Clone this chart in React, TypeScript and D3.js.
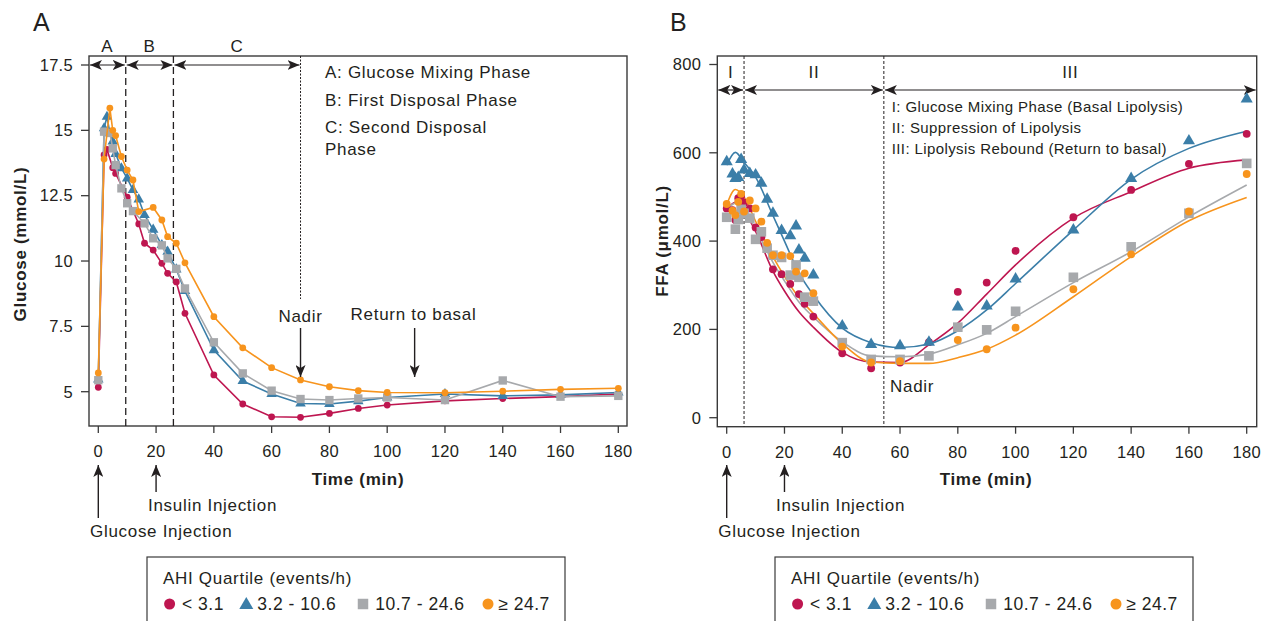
import React from 'react';
import * as d3 from 'd3';

const FONT = '"Liberation Sans", Arial, Helvetica, sans-serif';
const INK = '#231f20';
const TXT = { fontSize: 17, letterSpacing: 0.7, fill: INK };

// legend groups
const groups = ['< 3.1', '3.2 - 10.6', '10.7 - 24.6', '\u2265 24.7'];
const colors = ['#be1650', '#3b7ea8', '#a7a9ac', '#f7941d'];
const shapes = ['circle', 'triangle', 'square', 'circle'];

// Panel A: glucose (mmol/L)
const glucoseTime = [0, 2, 3, 4, 5, 6, 8, 10, 12, 14, 16, 19, 22, 24, 27, 30, 40, 50, 60, 70, 80, 90, 100, 120, 140, 160, 180];
const glucoseQ1 = [5.17, 14.06, 14.27, null, 13.57, 13.35, null, 12.44, null, 11.42, 10.68, 10.42, 9.91, 9.53, 9.2, 8.0, 5.64, 4.53, 4.04, 4.02, 4.17, 4.36, 4.49, 4.65, 4.74, 4.81, 4.91];
const glucoseQ2 = [5.47, 15.08, 15.52, 14.89, 14.57, 14.1, 13.55, 13.16, 12.72, 12.36, 11.76, 11.2, 10.61, 10.36, 9.68, 8.85, 6.59, 5.41, 4.91, 4.55, 4.53, 4.64, 4.78, 4.91, 4.84, 4.88, 4.97];
const glucoseQ3 = [5.44, 14.95, null, 14.9, 14.31, 13.67, 12.78, 12.21, 11.91, null, 11.44, 10.87, 10.6, 10.1, 9.7, 8.95, 6.89, 5.7, 5.04, 4.72, 4.68, 4.74, 4.78, 4.68, 5.43, 4.81, 4.84];
const glucoseQ4 = [5.72, 13.9, null, 15.85, 15.0, 14.8, 14.0, 13.48, 13.1, 11.89, null, 12.05, 11.57, 10.93, 10.68, 9.93, 7.87, 6.68, 5.92, 5.45, 5.19, 5.04, 4.97, 4.96, 5.02, 5.09, 5.13];
const glucoseTicks = [5, 7.5, 10, 12.5, 15, 17.5];

// Panel B: FFA (umol/L), observed points
const ffaTime = [0, 2, 3, 4, 5, 6, 8, 10, 12, 14, 16, 19, 22, 24, 25, 27, 30, 40, 50, 60, 70, 80, 90, 100, 120, 140, 160, 180];
const ffaQ1 = [474, 470, 448, 497, 502, 487, 474, 431, 409, null, 336, 325, 303, null, 280, 258, 229, 146, 112, 125, 171, 285, 306, 378, 454, 516, 575, 643];
const ffaQ2 = [580, 552, 542, 544, 585, 561, 553, 550, 531, 495, 463, 424, 412, 434, 380, 361, 323, 208, 166, 163, 171, 251, 253, 314, 425, 542, 627, 722];
const ffaQ3 = [454, null, 427, 449, 472, 463, 452, 404, 421, 384, 368, 363, 323, 346, 318, 273, 264, 170, 132, 132, 140, 205, 199, 241, 318, 387, 463, 576];
const ffaQ4 = [484, 469, 459, 489, 507, 467, 492, 474, 444, 396, 368, 368, 366, 331, null, 327, 282, 161, 125, 128, null, 176, 155, 204, 291, 370, 467, 552];
// Panel B: fitted curves
const fitTime = [0, 3, 6, 10, 16, 20, 25, 30, 40, 50, 60, 70, 80, 90, 100, 120, 140, 160, 180];
const fitQ1 = [470, 488, 468, 422, 332, 287, 240, 205, 148, 126, 125, 165, 214, 280, 346, 452, 512, 565, 584];
const fitQ2 = [572, 601, 578, 545, 458, 400, 328, 278, 203, 170, 159, 167, 197, 244, 304, 425, 540, 610, 649];
const fitQ3 = [470, 486, 470, 428, 352, 310, 262, 228, 172, 140, 138, 144, 165, 191, 229, 306, 376, 455, 527];
const fitQ4 = [482, 517, 500, 445, 365, 320, 272, 236, 168, 126, 123, 123, 136, 155, 187, 274, 365, 446, 499];
const ffaTicks = [0, 200, 400, 600, 800];

const timeTicks = [0, 20, 40, 60, 80, 100, 120, 140, 160, 180];

const glucoseSeries = [glucoseQ1, glucoseQ2, glucoseQ3, glucoseQ4];
const ffaSeries = [ffaQ1, ffaQ2, ffaQ3, ffaQ4];
const fitSeries = [fitQ1, fitQ2, fitQ3, fitQ4];

// frames
const frameA = { left: 89, right: 627, top: 56, bottom: 426 };
const frameB = { left: 717.3, right: 1256.7, top: 56, bottom: 426.7 };

const xA = d3.scaleLinear().domain([0, 180]).range([98.3, 618.3]);
const yA = d3.scaleLinear().domain([5, 17.5]).range([391.7, 65]);
const xB = d3.scaleLinear().domain([0, 180]).range([726.7, 1246.7]);
const yB = d3.scaleLinear().domain([0, 800]).range([417.7, 64.5]);

function Marker({ shape, x, y, color, k }: any) {
  if (shape === 'circle') return <circle cx={x} cy={y} r={3.4 * k} fill={color} />;
  const type = shape === 'triangle' ? d3.symbolTriangle : d3.symbolSquare;
  const size = shape === 'triangle' ? 48 * k * k : 70 * k * k;
  const d = d3.symbol().type(type).size(size)() as string;
  return <path d={d} transform={`translate(${x},${y})`} fill={color} />;
}

function Frame({ f }: any) {
  return <rect x={f.left} y={f.top} width={f.right - f.left} height={f.bottom - f.top} fill="none" stroke="#3a3a3a" strokeWidth={1.4} />;
}

function XAxis({ x, f }: any) {
  return (
    <g>
      {timeTicks.map(t => (
        <g key={t}>
          <line x1={x(t)} x2={x(t)} y1={f.bottom} y2={f.bottom + 7} stroke="#3a3a3a" strokeWidth={1.3} />
          <text x={x(t)} y={f.bottom + 31} textAnchor="middle" fontSize={16.5} letterSpacing={0.3} fill={INK}>{t}</text>
        </g>
      ))}
    </g>
  );
}

function YAxis({ y, f, ticks, fmt }: any) {
  return (
    <g>
      {ticks.map((v: number) => (
        <g key={v}>
          <line x1={f.left - 8} x2={f.left} y1={y(v)} y2={y(v)} stroke="#3a3a3a" strokeWidth={1.3} />
          <text x={f.left - 16} y={y(v) + 5.8} textAnchor="end" fontSize={16.5} letterSpacing={0.3} fill={INK}>{fmt(v)}</text>
        </g>
      ))}
    </g>
  );
}

function Legend({ x0 }: any) {
  const itemX = [0, 76.7, 193.4, 318.4];
  const textDx = [12.4, 11, 12.3, 10.3];
  return (
    <g>
      <rect x={x0} y={557} width={418} height={80} fill="none" stroke="#3a3a3a" strokeWidth={1.2} />
      <text x={x0 + 16} y={584} {...TXT}>AHI Quartile (events/h)</text>
      {groups.map((g, i) => {
        const cx = x0 + 22.6 + itemX[i];
        return (
          <g key={g}>
            {shapes[i] === 'circle' ? (
              <circle cx={cx} cy={604} r={5.5} fill={colors[i]} />
            ) : (
              <path d={d3.symbol().type(shapes[i] === 'triangle' ? d3.symbolTriangle : d3.symbolSquare).size(shapes[i] === 'triangle' ? 85 : 110)() as string}
                transform={`translate(${cx},${shapes[i] === 'triangle' ? 605 : 604})`} fill={colors[i]} />
            )}
            <text x={cx + textDx[i]} y={610} fontSize={17.5} letterSpacing={0.5} fill={INK}>{g}</text>
          </g>
        );
      })}
    </g>
  );
}

function VArrow({ x, y1, y2 }: any) {
  return <line x1={x} x2={x} y1={y1} y2={y2} stroke={INK} strokeWidth={1.4} markerEnd="url(#head)" />;
}

function HArrow({ x1, x2, y }: any) {
  return <line x1={x1} x2={x2} y1={y} y2={y} stroke={INK} strokeWidth={1.2} markerStart="url(#head)" markerEnd="url(#head)" />;
}

export default function App() {
  const lineA = (vals: (number | null)[]) =>
    d3.line<[number, number]>().x(d => xA(d[0])).y(d => yA(d[1]))(
      glucoseTime.map((t, i) => [t, vals[i]] as [number, any]).filter(d => d[1] != null)
    ) as string;
  const fitLine = (vals: number[]) =>
    d3.line<[number, number]>().curve(d3.curveMonotoneX).x(d => xB(d[0])).y(d => yB(d[1]))(
      fitTime.map((t, i) => [t, vals[i]] as [number, number])
    ) as string;

  const phaseA = [
    { label: 'A', from: frameA.left, to: xA(9.5) },
    { label: 'B', from: xA(9.5), to: xA(26) },
    { label: 'C', from: xA(26), to: xA(70) },
  ];
  const phaseB = [
    { label: 'I', from: frameB.left, to: xB(6) },
    { label: 'II', from: xB(6), to: xB(54.4) },
    { label: 'III', from: xB(54.4), to: frameB.right },
  ];

  return (
    <svg width={1264} height={621} style={{ position: 'absolute', left: 0, top: 0, background: '#fff' }} fontFamily={FONT}>
      <defs>
        <marker id="head" viewBox="0 0 12 10" refX="12" refY="5" markerWidth="12" markerHeight="10" markerUnits="userSpaceOnUse" orient="auto-start-reverse">
          <path d="M0,0 L12,5 L0,10 L3,5 z" fill={INK} />
        </marker>
      </defs>

      {/* ---------- Panel A ---------- */}
      <text x={33} y={31} fontSize={25} fill={INK}>A</text>
      <Frame f={frameA} />
      <YAxis y={yA} f={frameA} ticks={glucoseTicks} fmt={(v: number) => String(v)} />
      <XAxis x={xA} f={frameA} />
      <text x={358} y={485} textAnchor="middle" fontWeight="bold" {...TXT}>Time (min)</text>
      <text transform={`translate(26,${244}) rotate(-90)`} textAnchor="middle" fontWeight="bold" {...TXT}>Glucose (mmol/L)</text>

      {[9.5, 26].map(t => (
        <line key={t} x1={xA(t)} x2={xA(t)} y1={frameA.top} y2={frameA.bottom} stroke={INK} strokeWidth={1.3} strokeDasharray="7,4" />
      ))}
      <line x1={xA(70)} x2={xA(70)} y1={frameA.top} y2={299} stroke={INK} strokeWidth={1} strokeDasharray="2,1.5" />
      {phaseA.map(p => (
        <g key={p.label}>
          <HArrow x1={p.from + 1} x2={p.to - 1} y={yA(17.5)} />
          <text x={(p.from + p.to) / 2} y={52} textAnchor="middle" {...TXT}>{p.label}</text>
        </g>
      ))}
      <text {...TXT}>
        <tspan x={325} y={78}>A: Glucose Mixing Phase</tspan>
        <tspan x={325} y={106}>B: First Disposal Phase</tspan>
        <tspan x={325} y={133}>C: Second Disposal</tspan>
        <tspan x={325} y={154.5}>Phase</tspan>
      </text>

      {glucoseSeries.map((vals, s) => (
        <g key={s}>
          <path d={lineA(vals)} fill="none" stroke={colors[s]} strokeWidth={1.6} />
          {glucoseTime.map((t, i) => vals[i] == null ? null : (
            <Marker key={i} shape={shapes[s]} x={xA(t)} y={yA(vals[i] as number)} color={colors[s]} k={1} />
          ))}
        </g>
      ))}

      <text x={xA(70)} y={322} textAnchor="middle" {...TXT}>Nadir</text>
      <VArrow x={xA(70)} y1={328} y2={377} />
      <text x={413.5} y={320} textAnchor="middle" {...TXT}>Return to basal</text>
      <VArrow x={xA(109.5)} y1={328} y2={377} />

      <VArrow x={xA(0)} y1={518} y2={465} />
      <text x={90} y={537} {...TXT}>Glucose Injection</text>
      <VArrow x={xA(20)} y1={492} y2={465} />
      <text x={148} y={511} {...TXT}>Insulin Injection</text>

      <Legend x0={147} />

      {/* ---------- Panel B ---------- */}
      <text x={670} y={31} fontSize={25} fill={INK}>B</text>
      <Frame f={frameB} />
      <YAxis y={yB} f={frameB} ticks={ffaTicks} fmt={(v: number) => String(v)} />
      <XAxis x={xB} f={frameB} />
      <text x={986} y={485} textAnchor="middle" fontWeight="bold" {...TXT}>Time (min)</text>
      <text transform={`translate(668,${241}) rotate(-90)`} textAnchor="middle" fontWeight="bold" {...TXT}>FFA ({'\u03bc'}mol/L)</text>

      {[6, 54.4].map(t => (
        <line key={t} x1={xB(t)} x2={xB(t)} y1={frameB.top} y2={frameB.bottom} stroke={INK} strokeWidth={1} strokeDasharray="3,2" />
      ))}
      {phaseB.map(p => (
        <g key={p.label}>
          <HArrow x1={p.from + 1} x2={p.to - 1} y={90} />
          <text x={(p.from + p.to) / 2} y={78} textAnchor="middle" {...TXT}>{p.label}</text>
        </g>
      ))}
      <text fontSize={15} letterSpacing={0.4} fill={INK}>
        <tspan x={891.7} y={112}>I: Glucose Mixing Phase (Basal Lipolysis)</tspan>
        <tspan x={891.7} y={133}>II: Suppression of Lipolysis</tspan>
        <tspan x={891.7} y={153.5}>III: Lipolysis Rebound (Return to basal)</tspan>
      </text>

      {fitSeries.map((vals, s) => (
        <path key={s} d={fitLine(vals)} fill="none" stroke={colors[s]} strokeWidth={1.6} />
      ))}
      {ffaSeries.map((vals, s) => (
        <g key={s}>
          {ffaTime.map((t, i) => vals[i] == null ? null : (
            <Marker key={i} shape={shapes[s]} x={xB(t)} y={yB(vals[i] as number)} color={colors[s]} k={1.15} />
          ))}
        </g>
      ))}

      <text x={890} y={392} {...TXT}>Nadir</text>

      <VArrow x={xB(0)} y1={518} y2={465} />
      <text x={718.3} y={537} {...TXT}>Glucose Injection</text>
      <VArrow x={xB(20)} y1={492} y2={465} />
      <text x={776} y={511} {...TXT}>Insulin Injection</text>

      <Legend x0={775} />
    </svg>
  );
}
